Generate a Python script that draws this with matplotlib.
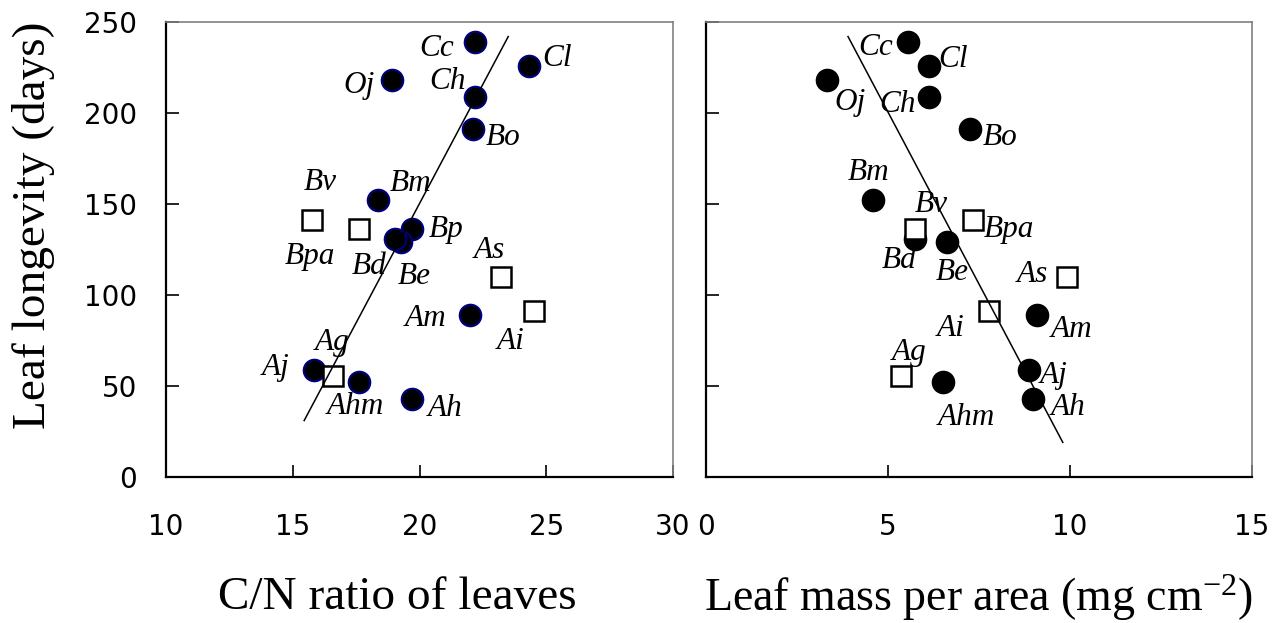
import matplotlib.pyplot as plt
import numpy as np

plt.rcParams['font.family'] = 'DejaVu Sans'
plt.rcParams['mathtext.default'] = 'regular'

# species codes, leaf longevity (days), C/N ratio, leaf mass per area (mg cm-2)
species = ['Cc', 'Cl', 'Oj', 'Ch', 'Bo', 'Bm', 'Bp', 'Be', 'Bd', 'Am', 'Aj', 'Ahm', 'Ah',
           'Bpa', 'Bv', 'As', 'Ai', 'Ag']
longevity = [239, 226, 218, 209, 191, 152, 136, 129, 131, 89, 59, 52, 43,
             141, 136, 110, 91, 55.5]
cn_ratio = [22.2, 24.3, 18.9, 22.2, 22.1, 18.35, 19.7, 19.25, 19.05, 22.0, 15.85, 17.6, 19.7,
            15.75, 17.6, 23.2, 24.5, 16.6]
lma = [5.54, 6.12, 3.33, 6.12, 7.26, 4.59, np.nan, 6.62, 5.75, 9.1, 8.86, 6.5, 8.97,
       7.32, 5.75, 9.92, 7.76, 5.36]
# True = filled circle, False = open square
filled = [True] * 13 + [False] * 5

# regression lines
cn_fit_x = [15.45, 23.5]
cn_fit_y = [31, 242]
lma_fit_x = [3.9, 9.8]
lma_fit_y = [242, 19]

# label offsets in pixels (dx right, dy up)
cn_offsets = {'Cc': (-39, -6), 'Cl': (28, 7), 'Oj': (-33, -5), 'Ch': (-28, 15), 'Bo': (30, -8),
              'Bv': (-38, 47), 'Bm': (33, 17), 'Bp': (34, 0), 'Bpa': (-2, -36), 'Bd': (-26, -28),
              'Be': (14, -34), 'As': (-11, 26), 'Am': (-45, -4), 'Ai': (-23, -30), 'Ag': (-1, 33),
              'Aj': (-39, 2), 'Ahm': (-3, -24), 'Ah': (33, -10)}
lma_offsets = {'Cc': (-32, -5), 'Cl': (24, 6), 'Oj': (23, -22), 'Ch': (-31, -8), 'Bo': (30, -8),
               'Bm': (-5, 28), 'Bv': (16, 25), 'Bpa': (36, -9), 'Bd': (-16, -22), 'Be': (5, -30),
               'As': (-35, 2), 'Ai': (-38, -17), 'Am': (34, -15), 'Ag': (8, 23), 'Aj': (25, -6),
               'Ah': (35, -9), 'Ahm': (24, -35)}

fig = plt.figure(figsize=(12.8, 6.23), dpi=100)
ax1 = fig.add_axes([0.1297, 0.2344, 0.3961, 0.7303])
ax2 = fig.add_axes([0.5516, 0.2344, 0.4266, 0.7303])

lab_font = dict(family='Liberation Serif', style='italic', fontsize=22.5)


def draw_panel(ax, xs, offsets, fit_x, fit_y, circle_edge):
    xs = np.array(xs, dtype=float)
    ys = np.array(longevity, dtype=float)
    f = np.array(filled)
    ax.plot(xs[f], ys[f], 'o', ms=15.5, mfc='black', mec=circle_edge, mew=1.5, zorder=2)
    ax.plot(xs[~f], ys[~f], 's', ms=14.5, mfc='white', mec='black', mew=1.8, zorder=3)
    ax.plot(fit_x, fit_y, color='black', lw=1.1, zorder=4)
    for s, x, y in zip(species, xs, ys):
        if s in offsets and not np.isnan(x):
            ax.annotate(s, (x, y), xytext=offsets[s], textcoords='offset pixels',
                        ha='center', va='center', zorder=5, **lab_font)
    ax.set_ylim(0, 250)
    ax.set_yticks([0, 50, 100, 150, 200, 250])
    for side in ['top', 'right']:
        ax.spines[side].set_color('#808080')
        ax.spines[side].set_linewidth(1.2)
    for side in ['left', 'bottom']:
        ax.spines[side].set_color('black')
        ax.spines[side].set_linewidth(1.6)
    ax.tick_params(direction='in', length=9, width=1.2, labelsize=20)
    ax.tick_params(axis='x', pad=26)
    ax.tick_params(axis='y', pad=21)


draw_panel(ax1, cn_ratio, cn_offsets, cn_fit_x, cn_fit_y, '#000080')
ax1.set_xlim(10, 30)
ax1.set_xticks([10, 15, 20, 25, 30])

draw_panel(ax2, lma, lma_offsets, lma_fit_x, lma_fit_y, 'black')
ax2.set_xlim(0, 15)
ax2.set_xticks([0, 5, 10, 15])
ax2.tick_params(axis='y', labelleft=False)

fig.text(34 / 1280, 1 - 225 / 623, 'Leaf longevity (days)', rotation=90, ha='center', va='center',
         family='Liberation Serif', fontsize=34)
fig.text(397 / 1280, 1 - 598 / 623, 'C/N ratio of leaves', ha='center', va='center',
         family='Liberation Serif', fontsize=34)
fig.text(978 / 1280, 1 - 598 / 623, 'Leaf mass per area (mg cm$^{\\mathregular{-2}}$)',
         ha='center', va='center', family='Liberation Serif', fontsize=33)

fig.savefig('out.png', dpi=100)
